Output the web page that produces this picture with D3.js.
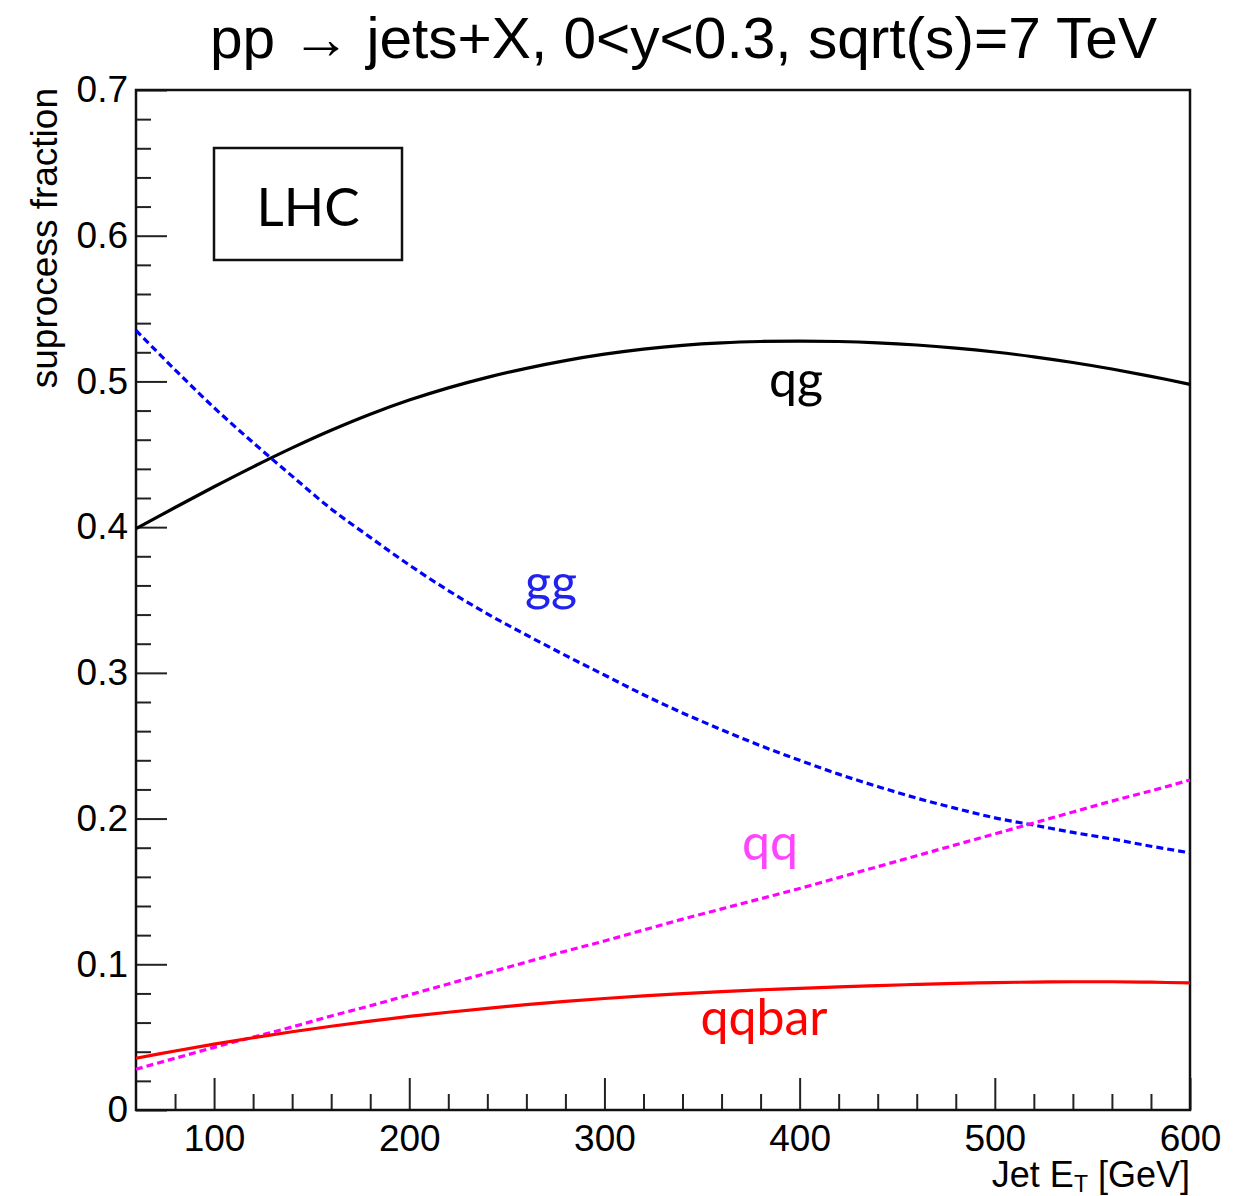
<!DOCTYPE html>
<html>
<head>
<meta charset="utf-8">
<script src="https://cdn.jsdelivr.net/npm/d3@7"></script>
<style>
  html, body { margin: 0; padding: 0; background: #fff; }
  svg { display: block; }
</style>
</head>
<body>
<svg id="chart" width="1256" height="1196"></svg>
<script>
// ---------- data ----------
const jetET = [60, 80, 100, 120, 140, 160, 180, 200, 220, 240, 260, 280, 300, 320, 340,
               360, 380, 400, 420, 440, 460, 480, 500, 520, 540, 560, 580, 600];
const qgFrac = [0.399, 0.4135, 0.4277, 0.4414, 0.4544, 0.4665, 0.4775, 0.4872, 0.4956, 0.5028,
                0.509, 0.5143, 0.5187, 0.5222, 0.5248, 0.5265, 0.5274, 0.5277, 0.5274, 0.5265,
                0.525, 0.5229, 0.5202, 0.5169, 0.513, 0.5085, 0.5035, 0.498];
const ggFrac = [0.535, 0.508, 0.482, 0.458, 0.435, 0.4125, 0.393, 0.374, 0.3565, 0.3405,
                0.326, 0.312, 0.2985, 0.285, 0.2725, 0.261, 0.250, 0.240, 0.2305, 0.222,
                0.214, 0.207, 0.2005, 0.1955, 0.1905, 0.186, 0.181, 0.1765];
const qqFrac = [0.028, 0.0355, 0.043, 0.050, 0.057, 0.0645, 0.0715, 0.079, 0.0865, 0.094,
                0.1015, 0.109, 0.116, 0.1235, 0.131, 0.138, 0.145, 0.152, 0.1595, 0.167,
                0.1745, 0.182, 0.1895, 0.197, 0.2045, 0.212, 0.219, 0.2265];
const qqbarFrac = [0.0355, 0.0405, 0.0452, 0.0496, 0.0537, 0.0575, 0.061, 0.0642, 0.0671, 0.0698,
                   0.0723, 0.0745, 0.0765, 0.0783, 0.0799, 0.0813, 0.0825, 0.0835, 0.0845, 0.0854,
                   0.0862, 0.0869, 0.0874, 0.0878, 0.088, 0.088, 0.0877, 0.0872];
const xMajorTicks = [100, 200, 300, 400, 500, 600];
const yMajorTicks = [0, 0.1, 0.2, 0.3, 0.4, 0.5, 0.6, 0.7];
const seriesNames = ["qg", "gg", "qq", "qqbar"];
const titleText = "pp \u2192 jets+X, 0<y<0.3, sqrt(s)=7 TeV";

// ---------- layout ----------
const L = 136, R = 1190, T = 90, B = 1110;
const svg = d3.select("#chart");
const x = d3.scaleLinear().domain([60, 600]).range([L, R]);
const y = d3.scaleLinear().domain([0, 0.7]).range([B, T]);

const styles = {
  qg:    {color: "#000000", dash: null,  label: "qg",    lx: 796, ly: 397, lc: "#000000"},
  gg:    {color: "#0000ff", dash: "7,4", label: "gg",    lx: 551, ly: 600, lc: "#2222ee"},
  qq:    {color: "#ff00ff", dash: "7,4", label: "qq",    lx: 770, ly: 860, lc: "#ff44ff"},
  qqbar: {color: "#ff0000", dash: null,  label: "qqbar", lx: 764, ly: 1035, lc: "#ff0000"}
};
const seriesData = {qg: qgFrac, gg: ggFrac, qq: qqFrac, qqbar: qqbarFrac};

// ---------- axes ----------
const xMinor = d3.range(80, 601, 20).filter(v => !xMajorTicks.includes(v));
const yMinor = d3.range(1, 35).map(i => +(i * 0.02).toFixed(2)).filter(v => Math.abs(v * 10 - Math.round(v * 10)) > 1e-6);

svg.append("g").attr("transform", `translate(0,${B})`)
  .call(d3.axisBottom(x).tickValues(xMinor).tickSize(-16).tickFormat(""))
  .call(g => g.select(".domain").remove())
  .selectAll("line").attr("stroke", "#222").attr("stroke-width", 2);

const gx = svg.append("g").attr("transform", `translate(0,${B})`)
  .call(d3.axisBottom(x).tickValues(xMajorTicks).tickSize(-32).tickPadding(15).tickFormat(d3.format("d")));
gx.select(".domain").remove();
gx.selectAll("line").attr("stroke", "#222").attr("stroke-width", 2);
gx.selectAll("text").attr("font-family", "Liberation Sans, Arial, sans-serif")
  .attr("font-size", 37).attr("fill", "#000");

svg.append("g").attr("transform", `translate(${L},0)`)
  .call(d3.axisLeft(y).tickValues(yMinor).tickSize(-15).tickFormat(""))
  .call(g => g.select(".domain").remove())
  .selectAll("line").attr("stroke", "#222").attr("stroke-width", 2);

const gy = svg.append("g").attr("transform", `translate(${L},0)`)
  .call(d3.axisLeft(y).tickValues(yMajorTicks).tickSize(-31).tickPadding(8)
    .tickFormat(d => d === 0 ? "0" : d3.format(".1f")(d)));
gy.select(".domain").remove();
gy.selectAll("line").attr("stroke", "#222").attr("stroke-width", 2);
gy.selectAll("text").attr("font-family", "Liberation Sans, Arial, sans-serif")
  .attr("font-size", 37).attr("fill", "#000");

// frame
svg.append("rect").attr("x", L).attr("y", T).attr("width", R - L).attr("height", B - T)
  .attr("fill", "none").attr("stroke", "#111").attr("stroke-width", 2.5);

// ---------- curves ----------
const line = d3.line().x((d, i) => x(jetET[i])).y(d => y(d)).curve(d3.curveCatmullRom.alpha(0.5));
seriesNames.forEach(name => {
  const s = styles[name];
  svg.append("path").datum(seriesData[name])
    .attr("d", line)
    .attr("fill", "none")
    .attr("stroke", s.color)
    .attr("stroke-width", 3.2)
    .attr("stroke-dasharray", s.dash);
  svg.append("text").attr("x", s.lx).attr("y", s.ly)
    .attr("text-anchor", "middle")
    .attr("font-family", "Lato, 'Open Sans', sans-serif")
    .attr("font-size", 50)
    .attr("fill", s.lc)
    .text(s.label);
});

// ---------- LHC box ----------
svg.append("rect").attr("x", 214).attr("y", 148).attr("width", 188).attr("height", 112)
  .attr("fill", "#fff").attr("stroke", "#111").attr("stroke-width", 2.5);
svg.append("text").attr("x", 308).attr("y", 226).attr("text-anchor", "middle")
  .attr("font-family", "Lato, 'Open Sans', sans-serif").attr("font-size", 53)
  .attr("fill", "#000").text("LHC");

// ---------- titles ----------
svg.append("text").attr("x", 210).attr("y", 58)
  .attr("font-family", "Liberation Sans, Arial, sans-serif").attr("font-size", 57)
  .attr("textLength", 947).attr("lengthAdjust", "spacingAndGlyphs")
  .attr("fill", "#000").text(titleText);

svg.append("text")
  .attr("transform", "translate(57,88) rotate(-90)")
  .attr("text-anchor", "end")
  .attr("font-family", "Liberation Sans, Arial, sans-serif").attr("font-size", 37)
  .attr("fill", "#000").text("suprocess fraction");

const xt = svg.append("text").attr("x", 1190).attr("y", 1187).attr("text-anchor", "end")
  .attr("font-family", "Liberation Sans, Arial, sans-serif").attr("font-size", 36).attr("fill", "#000");
xt.append("tspan").text("Jet E");
xt.append("tspan").attr("font-size", 23).attr("dy", 5).text("T");
xt.append("tspan").attr("dy", -5).text(" [GeV]");
</script>
</body>
</html>
